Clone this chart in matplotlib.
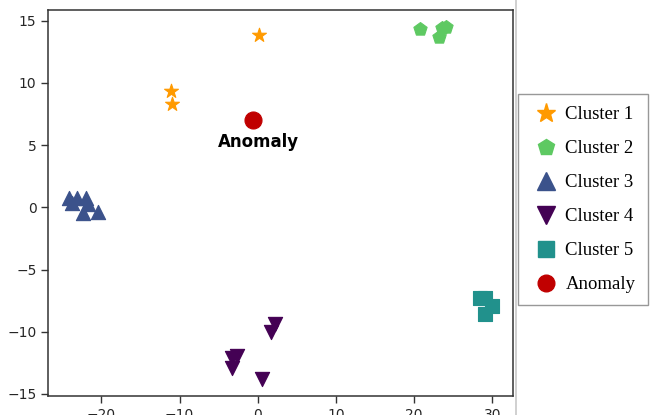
import matplotlib
matplotlib.use("Agg")
import matplotlib.pyplot as plt
from matplotlib.lines import Line2D

# ---- data ----
c1_x = [0.17, -11.09, -10.96]
c1_y = [13.85, 9.37, 8.30]
c2_x = [20.75, 23.5, 24.1, 23.2]
c2_y = [14.33, 14.45, 14.5, 13.65]
c3_x = [-24.13, -23.07, -21.96, -23.75, -21.7, -22.30, -20.38]
c3_y = [0.72, 0.77, 0.72, 0.33, 0.25, -0.43, -0.40]
c4_x = [2.21, 1.70, -2.7, -3.3, -3.3, 0.55]
c4_y = [-9.38, -10.0, -11.95, -12.1, -12.95, -13.78]
c5_x = [28.4, 29.05, 29.95, 29.05]
c5_y = [-7.25, -7.25, -7.95, -8.6]
anom_x = [-0.6]
anom_y = [7.02]

labels = ["Cluster 1", "Cluster 2", "Cluster 3", "Cluster 4", "Cluster 5", "Anomaly"]
colors = ["#ff9a00", "#5ec962", "#3b528b", "#440154", "#21918c", "#c00000"]
markers = ["*", "p", "^", "v", "s", "o"]
xticks = [-20, -10, 0, 10, 20, 30]
yticks = [15, 10, 5, 0, -5, -10, -15]

W, H = 652, 415
fig = plt.figure(figsize=(W / 100, H / 100), dpi=100)
ax = fig.add_axes([48.3 / W, 1 - 395.7 / H, (512.7 - 48.3) / W, (395.7 - 10) / H])

series = [(c1_x, c1_y), (c2_x, c2_y), (c3_x, c3_y), (c4_x, c4_y), (c5_x, c5_y), (anom_x, anom_y)]
sizes = [110, 100, 105, 105, 100, 150]
leg_ms = [14, 12, 13, 13, 11.5, 12]
handles = []
for (xs, ys), lab, col, mk, s, lms in zip(series, labels, colors, markers, sizes, leg_ms):
    ax.scatter(xs, ys, marker=mk, s=s, color=col, edgecolors=col, linewidths=0.8, zorder=3)
    handles.append(Line2D([], [], linestyle="none", marker=mk, color=col,
                          markersize=lms, label=lab))

ax.annotate("Anomaly", xy=(anom_x[0], anom_y[0]), xytext=(5, -22),
            textcoords="offset pixels", ha="center", va="center",
            fontsize=12, fontweight="bold", family="DejaVu Sans", color="black")

ax.set_xlim(-26.8, 32.6)
ax.set_ylim(-15.14, 15.86)
ax.set_xticks(xticks)
ax.set_yticks(yticks)
ax.tick_params(length=5, width=1.0, color="#333333", labelsize=10, labelcolor="#262626")
for sp in ax.spines.values():
    sp.set_color("#333333")
    sp.set_linewidth(1.1)

# light figure border line
fig.add_artist(Line2D([515.5 / W, 515.5 / W], [0, 1], transform=fig.transFigure,
                      color="#c8c8c8", linewidth=1.2))

leg = fig.legend(handles=handles, loc="upper left",
                 bbox_to_anchor=(517.5 / W, 1 - 94 / H), bbox_transform=fig.transFigure,
                 borderaxespad=0, frameon=True, fancybox=False,
                 prop={"family": "Liberation Serif", "size": 13.5},
                 handlelength=1.75, handletextpad=0.15, labelspacing=0.9,
                 borderpad=0.65)
leg.get_frame().set_edgecolor("#7f7f7f")
leg.get_frame().set_linewidth(1.0)

fig.savefig("out.png", dpi=100)
